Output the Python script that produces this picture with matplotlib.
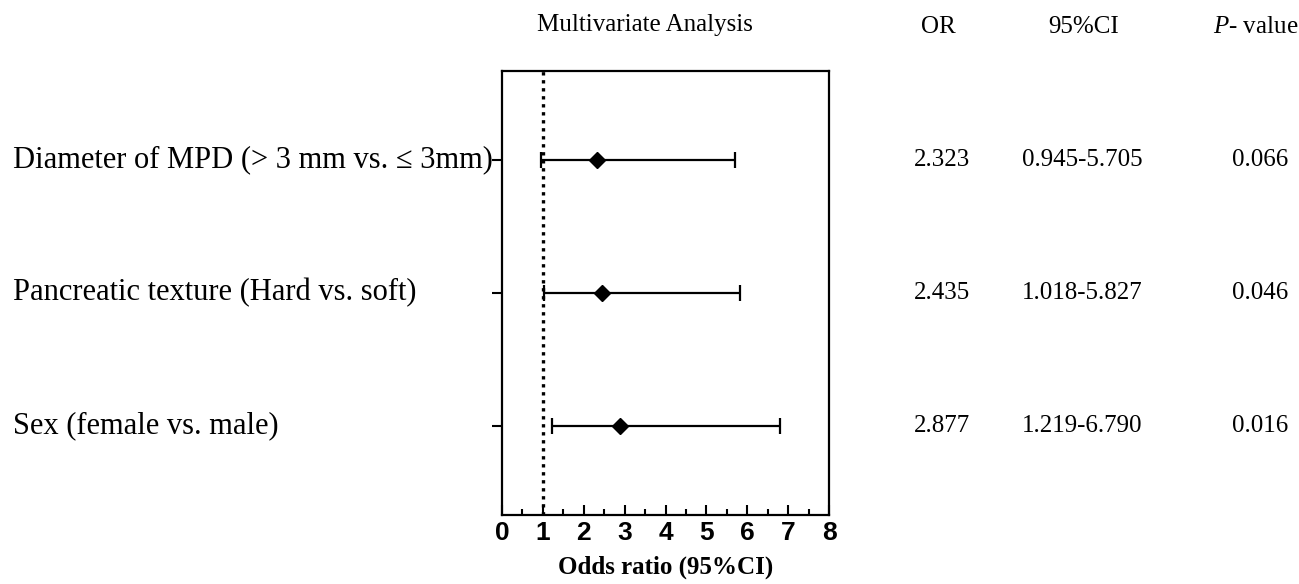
import matplotlib
matplotlib.use("Agg")
import matplotlib.pyplot as plt
import matplotlib.transforms as mtransforms
from matplotlib.ticker import MultipleLocator

plt.rcParams["mathtext.fontset"] = "custom"
plt.rcParams["mathtext.rm"] = "Liberation Serif"
plt.rcParams["mathtext.it"] = "Liberation Serif:italic"

# ---- data ----
labels = ["Diameter of MPD (> 3 mm vs. \u2264 3mm)",
          "Pancreatic texture (Hard vs. soft)",
          "Sex (female vs. male)"]
odds = [2.323, 2.435, 2.877]
ci_low = [0.945, 1.018, 1.219]
ci_high = [5.705, 5.827, 6.790]
or_text = ["2.323", "2.435", "2.877"]
ci_text = ["0.945-5.705", "1.018-5.827", "1.219-6.790"]
p_text = ["0.066", "0.046", "0.016"]
xticks = [0, 1, 2, 3, 4, 5, 6, 7, 8]

serif = ["Liberation Serif", "DejaVu Serif"]

fig = plt.figure(figsize=(12.99, 5.84), dpi=100)
ax = fig.add_axes([502/1299, 1-515/584, 327/1299, 444/584])

n = len(labels)
ypos = [n - i for i in range(n)]

xerr = [[o - l for o, l in zip(odds, ci_low)], [h - o for o, h in zip(odds, ci_high)]]
ax.axvline(1, color="black", linestyle=(0, (1, 1.4)), linewidth=2.4, zorder=1)
ax.errorbar(odds, ypos, xerr=xerr, fmt="D", color="black", markersize=8.5,
            ecolor="black", elinewidth=1.6, capsize=6, capthick=1.6, zorder=3)

ax.set_xlim(0, 8)
ax.set_ylim(0.333, 3.667)
ax.set_xticks(xticks)
ax.set_xticklabels([str(t) for t in xticks], fontfamily="Liberation Sans",
                   fontweight="bold", fontsize=19)
ax.xaxis.set_minor_locator(MultipleLocator(0.5))
ax.tick_params(axis="x", which="major", direction="in", length=7, width=1.5, pad=4)
ax.tick_params(axis="x", which="minor", direction="in", length=4, width=1.5)
ax.set_yticks(ypos)
ax.set_yticklabels([])
ax.tick_params(axis="y", which="major", direction="out", length=7, width=1.5)
for s in ax.spines.values():
    s.set_linewidth(1.6)

ax.set_xlabel("Odds ratio (95%CI)", fontfamily=serif, fontweight="bold",
              fontsize=18, labelpad=8)

trans = mtransforms.blended_transform_factory(fig.transFigure, ax.transData)
for y, lab in zip(ypos, labels):
    ax.text(13/1299, y, lab, transform=trans, ha="left", va="center",
            fontsize=22, family=serif)
for y, a, b, c in zip(ypos, or_text, ci_text, p_text):
    ax.text(942/1299, y, a, transform=trans, ha="center", va="center", fontsize=18, family=serif)
    ax.text(1082/1299, y, b, transform=trans, ha="center", va="center", fontsize=18, family=serif)
    ax.text(1260/1299, y, c, transform=trans, ha="center", va="center", fontsize=18, family=serif)

hy = 1 - 27/584
fig.text(645/1299, 1 - 25/584, "Multivariate Analysis", ha="center", va="center",
         fontsize=18, family=serif)
fig.text(938/1299, hy, "OR", ha="center", va="center", fontsize=18, family=serif)
fig.text(1084/1299, hy, "95%CI", ha="center", va="center", fontsize=18, family=serif)
fig.text(1256/1299, hy, "$\\it{P}$- value", ha="center", va="center", fontsize=18, family=serif)

fig.savefig("out.png", dpi=100)
